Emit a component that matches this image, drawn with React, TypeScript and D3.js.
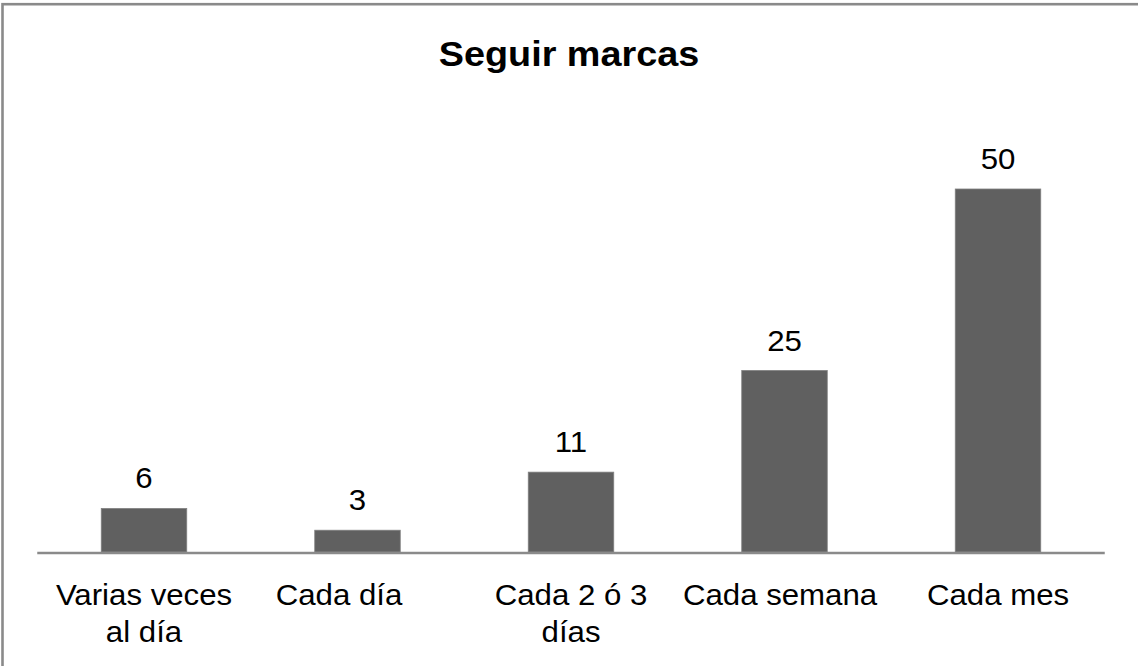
import React from "react";
import * as d3 from "d3";

const categories: string[][] = [
  ["Varias veces", "al día"],
  ["Cada día"],
  ["Cada 2 ó 3", "días"],
  ["Cada semana"],
  ["Cada mes"],
];
const values: number[] = [6, 3, 11, 25, 50];
const title = "Seguir marcas";

const W = 1138;
const H = 666;
const FONT = "'Liberation Sans', Arial, sans-serif";
// small horizontal nudges of category labels, as in the source layout
const labelNudge = [0, -18.5, 0, -4.5, 0];

export default function App() {
  const ids = categories.map((_, i) => String(i));
  const x = d3.scaleBand<string>().domain(ids).range([37.25, 1104.75]).paddingInner(0.6).paddingOuter(0.3);
  const y = d3.scaleLinear().domain([0, 60]).range([552, 116.4]);
  const bw = 85.5;
  const cx = (i: number) => (x(ids[i]) as number) + x.bandwidth() / 2;

  return (
    <svg width={W} height={H} style={{ position: "absolute", left: 0, top: 0, background: "#fff" }}>
      <rect x={2.5} y={4.2} width={W + 20} height={H + 20} fill="#fff" stroke="#8a8a8a" strokeWidth={2.6} />
      <text
        transform={`translate(${W / 2},65.7) scale(1.08,1)`}
        textAnchor="middle"
        fontFamily={FONT}
        fontWeight="bold"
        fontSize={35}
        fill="#000"
      >
        {title}
      </text>
      {values.map((v, i) => (
        <g key={i}>
          <rect
            x={cx(i) - bw / 2}
            y={y(v)}
            width={bw}
            height={y(0) - y(v)}
            fill="#606060"
            stroke="#808080"
            strokeWidth={0.8}
          />
          <text
            transform={`translate(${cx(i)},${y(v) - 20}) scale(1.04,1)`}
            textAnchor="middle"
            fontFamily={FONT}
            fontSize={30}
            fill="#000"
          >
            {v}
          </text>
        </g>
      ))}
      <line x1={x.range()[0]} x2={x.range()[1]} y1={553} y2={553} stroke="#8a8a8a" strokeWidth={2.5} />
      {categories.map((lines, i) =>
        lines.map((ln, j) => (
          <text
            key={`${i}-${j}`}
            transform={`translate(${cx(i) + labelNudge[i]},${605 + j * 36.7}) scale(1.04,1)`}
            textAnchor="middle"
            fontFamily={FONT}
            fontSize={30}
            fill="#000"
          >
            {ln}
          </text>
        ))
      )}
    </svg>
  );
}
